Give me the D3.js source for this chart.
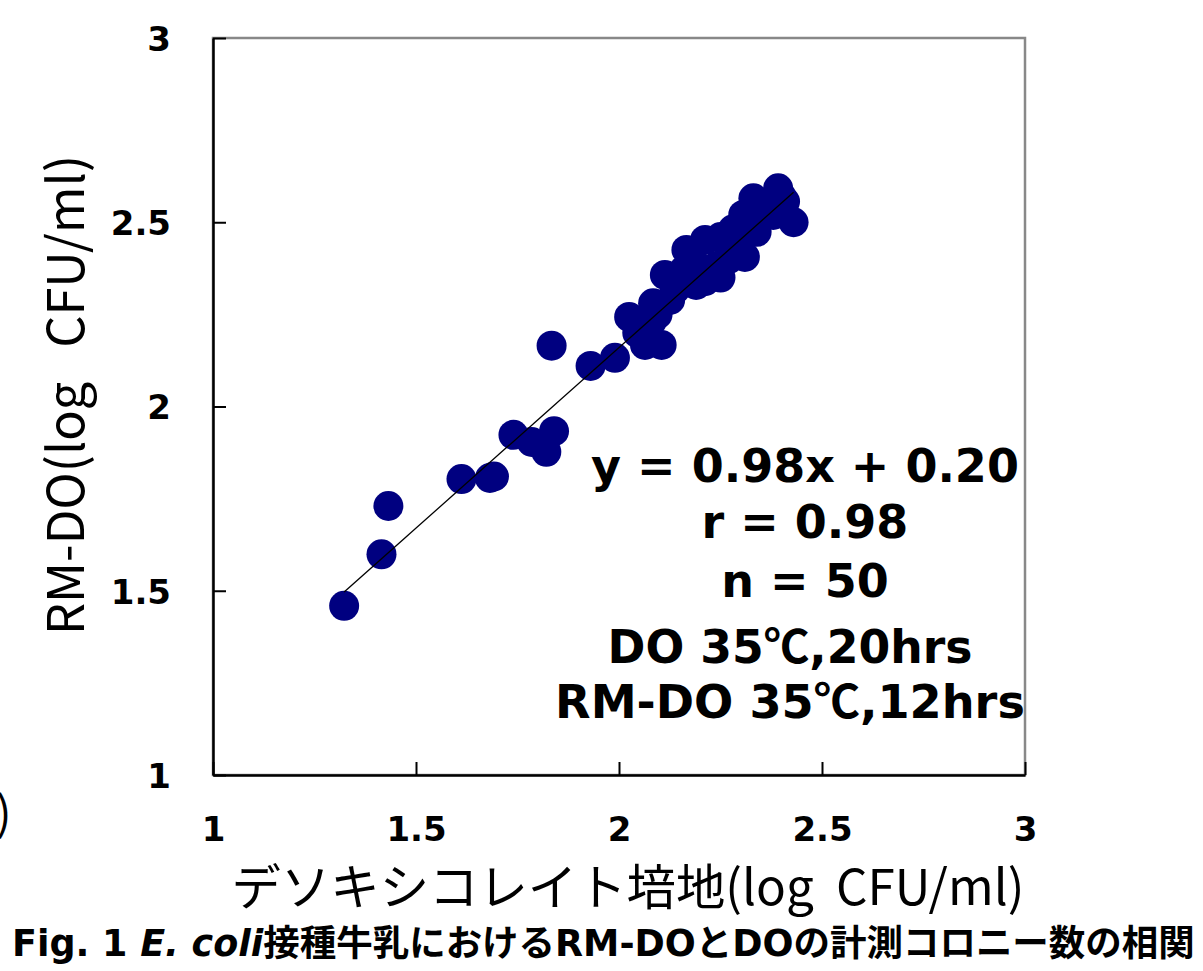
<!DOCTYPE html>
<html>
<head>
<meta charset="utf-8">
<script src="https://cdn.jsdelivr.net/npm/d3@7"></script>
<style>
  body { margin: 0; background: #fff; }
  svg { display: block; }
</style>
</head>
<body>
<svg id="chart" width="1203" height="971"></svg>
<script>
// DO (x) vs RM-DO (y), log CFU/ml
let doValues = [1.323, 1.415, 1.432, 1.612, 1.682, 1.692, 1.740, 1.785, 1.821, 1.840,
  1.834, 1.930, 1.990, 2.025, 2.064, 2.105, 2.084, 2.113, 2.126, 2.166,
  2.212, 2.212, 2.240, 2.310, 2.306, 2.339, 2.331, 2.392, 2.409, 2.430,
  2.265, 2.045, 2.080, 2.095, 2.140, 2.160, 2.185, 2.190, 2.250, 2.250,
  2.280, 2.290, 2.320, 2.350, 2.360, 2.380, 2.070, 2.150, 2.270, 2.400];
let rmdoValues = [1.459, 1.599, 1.730, 1.803, 1.806, 1.810, 1.923, 1.904, 1.877, 1.933,
  2.165, 2.110, 2.132, 2.243, 2.167, 2.167, 2.280, 2.357, 2.289, 2.425,
  2.452, 2.340, 2.380, 2.406, 2.520, 2.474, 2.565, 2.592, 2.556, 2.500,
  2.443, 2.200, 2.230, 2.250, 2.320, 2.370, 2.390, 2.330, 2.350, 2.460,
  2.480, 2.450, 2.500, 2.530, 2.540, 2.520, 2.210, 2.340, 2.400, 2.570];

let xTicks = [1, 1.5, 2, 2.5, 3];
let yTicks = [1, 1.5, 2, 2.5, 3];

let slope = 0.98;
let intercept = 0.20;

let statLines = ["y = 0.98x + 0.20", "r = 0.98", "n = 50"];
// culture conditions, split around the ℃ sign
let condLines = [["DO 35", "℃", ",20hrs"], ["RM-DO 35", "℃", ",12hrs"]];

let xTitle = "デソキシコレイト培地(log\u00a0\u00a0CFU/ml)";
let yTitle = "RM-DO(log\u00a0\u00a0\u00a0CFU/ml)";

const svg = d3.select("#chart");

const x = d3.scaleLinear().domain([1, 3]).range([213, 1025]);
const y = d3.scaleLinear().domain([1, 3]).range([775, 38]);

const boldFont = "'DejaVu Sans', Verdana, sans-serif";
const jpFont = "'Noto Sans CJK JP', 'Noto Sans', sans-serif";
const mixFont = "'DejaVu Sans', 'Noto Sans CJK JP', sans-serif";

// shrink/grow a text's font so it spans the width seen in the figure
function fitWidth(sel, target) {
  let fs = parseFloat(sel.style("font-size"));
  let w = sel.node().getComputedTextLength();
  sel.style("font-size", (fs * target / w) + "px");
}

// grey frame
svg.append("rect")
  .attr("x", x(1)).attr("y", y(3))
  .attr("width", x(3) - x(1)).attr("height", y(1) - y(3))
  .attr("fill", "none")
  .attr("stroke", "#888")
  .attr("stroke-width", 2.5);

// points
let points = doValues.map((d, i) => ({x: d, y: rmdoValues[i]}));
svg.append("g")
  .selectAll("circle")
  .data(points)
  .join("circle")
  .attr("cx", d => x(d.x))
  .attr("cy", d => y(d.y))
  .attr("r", 15)
  .attr("fill", "#000080");

// regression line over data range
let xmin = d3.min(doValues), xmax = d3.max(doValues);
svg.append("line")
  .attr("x1", x(xmin)).attr("y1", y(slope * xmin + intercept))
  .attr("x2", x(xmax)).attr("y2", y(slope * xmax + intercept))
  .attr("stroke", "#000")
  .attr("stroke-width", 1.3);

// axes, ticks point inward
const xAxis = d3.axisBottom(x).tickValues(xTicks).tickFormat(d3.format("")).tickSizeInner(-13).tickSizeOuter(0).tickPadding(42);
const yAxis = d3.axisLeft(y).tickValues(yTicks).tickFormat(d3.format("")).tickSizeInner(-13).tickSizeOuter(0).tickPadding(42);

let gx = svg.append("g").attr("transform", `translate(0,${y(1)})`).call(xAxis);
let gy = svg.append("g").attr("transform", `translate(${x(1)},0)`).call(yAxis);

[gx, gy].forEach(g => {
  g.select(".domain").attr("stroke", "#000").attr("stroke-width", 2.5);
  g.selectAll(".tick line").attr("stroke", "#000").attr("stroke-width", 2);
  g.selectAll(".tick text")
    .attr("fill", "#000")
    .style("font-family", boldFont)
    .style("font-weight", "bold")
    .style("font-size", "34px");
});
gy.selectAll(".tick text").attr("dy", "0.36em");

// stats text block
svg.append("g")
  .selectAll("text")
  .data(statLines)
  .join("text")
  .attr("x", 805)
  .attr("y", (d, i) => [482, 538, 597][i])
  .attr("text-anchor", "middle")
  .style("font-family", mixFont)
  .style("font-weight", "bold")
  .style("font-size", "46px")
  .text(d => d);

let condTexts = svg.append("g")
  .selectAll("text")
  .data(condLines)
  .join("text")
  .attr("x", 790)
  .attr("y", (d, i) => [663, 718][i])
  .attr("text-anchor", "middle")
  .style("font-family", mixFont)
  .style("font-weight", "bold")
  .style("font-size", "46px");
condTexts.each(function(parts) {
  let t = d3.select(this);
  t.append("tspan").text(parts[0]);
  t.append("tspan").style("font-family", jpFont).text(parts[1]);
  t.append("tspan").text(parts[2]);
});
condTexts.each(function(d, i) { fitWidth(d3.select(this), [365, 470][i]); });

// axis titles
let xt = svg.append("text")
  .attr("x", 628).attr("y", 905)
  .attr("text-anchor", "middle")
  .style("font-family", jpFont)
  .style("font-size", "44px")
  .text(xTitle);
fitWidth(xt, 793);

let yt = svg.append("text")
  .attr("transform", "translate(84,395) rotate(-90)")
  .attr("text-anchor", "middle")
  .style("font-family", jpFont)
  .style("font-size", "44px")
  .text(yTitle);
fitWidth(yt, 480);

// cut-off bracket at the left edge
svg.append("text")
  .attr("x", -4).attr("y", 830)
  .style("font-family", jpFont)
  .style("font-size", "46px")
  .text(")");

// caption
let cap = svg.append("text")
  .attr("x", 12).attr("y", 956)
  .style("font-family", mixFont)
  .style("font-weight", "bold")
  .style("font-size", "29px");
cap.append("tspan").text("Fig. 1 ");
cap.append("tspan").style("font-style", "italic").text("E. coli");
cap.append("tspan").text("接種牛乳におけるRM-DOとDOの計測コロニー数の相関");
fitWidth(cap, 1183);
</script>
</body>
</html>
